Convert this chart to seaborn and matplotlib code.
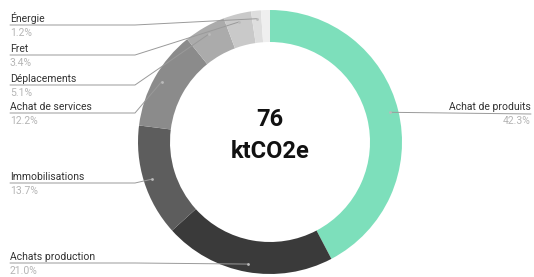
import numpy as np
import seaborn as sns
import matplotlib.pyplot as plt

# data (percent of 76 ktCO2e)
categories = ["Achat de produits", "Achats production", "Immobilisations",
              "Achat de services", "Déplacements", "Fret", "Énergie", ""]
values = [42.3, 21.0, 13.7, 12.2, 5.1, 3.4, 1.2, 1.1]
pct_labels = ["42.3%", "21.0%", "13.7%", "12.2%", "5.1%", "3.4%", "1.2%", ""]
colors = ["#7ddfbb", "#3a3a3a", "#5d5d5d", "#8b8b8b", "#ababab", "#c9c9c9", "#dedede", "#efefef"]

# label line heights (pixels from top)
label_y = [114, 263, 183, 113, 85, 55, 25, None]

sns.set_theme(style="white")
plt.rcParams['font.family'] = ['Roboto', 'DejaVu Sans']

W, H = 534, 277
fig = plt.figure(figsize=(W / 100, H / 100), dpi=100)
ax = fig.add_axes([0, 0, 1, 1])

cx, cy = 270, H - 142
r_out, r_in = 132, 100

wedges, _ = ax.pie(values, colors=colors, center=(cx, cy), radius=r_out,
                   startangle=90, counterclock=False,
                   wedgeprops=dict(width=r_out - r_in, edgecolor="none"))
ax.set_xlim(0, W)
ax.set_ylim(0, H)
ax.set_aspect("equal")
ax.axis("off")

total = sum(values)
cum = np.cumsum([0] + values)
name_col, pct_col, line_col = "#333333", "#b5b5b5", "#9a9a9a"
fs = 7.5
for i, name in enumerate(categories):
    if not name:
        continue
    mid = (cum[i] + cum[i + 1]) / 2 / total * 2 * np.pi
    ax_x = cx + 124 * np.sin(mid)
    ax_y = cy + 124 * np.cos(mid)
    ly = H - label_y[i]
    if np.sin(mid) > 0:
        # right side label
        ax.plot([ax_x, 531], [ax_y, ly], color=line_col, lw=0.7, zorder=3)
        ax.text(531, ly + 1.5, name, ha="right", va="bottom", fontsize=fs, color=name_col)
        ax.text(531, ly - 2.5, pct_labels[i], ha="right", va="top", fontsize=fs, color=pct_col)
    else:
        ax.plot([10, 135, ax_x], [ly, ly, ax_y], color=line_col, lw=0.7, zorder=3)
        ax.text(10, ly + 1.5, name, ha="left", va="bottom", fontsize=fs, color=name_col)
        ax.text(10, ly - 2.5, pct_labels[i], ha="left", va="top", fontsize=fs, color=pct_col)
    ax.plot(ax_x, ax_y, "o", ms=2, color="#bbbbbb", mec="none", zorder=4)

ax.text(cx, H - 119, "76", ha="center", va="center", fontsize=17,
        fontweight="bold", color="#111111")
ax.text(cx, H - 151, "ktCO2e", ha="center", va="center", fontsize=17,
        fontweight="bold", color="#111111")

fig.savefig("out.png", dpi=100)
